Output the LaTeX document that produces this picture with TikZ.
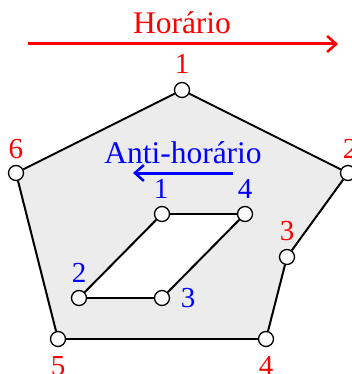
\documentclass[tikz,border=0pt]{standalone}
\usepackage{fontspec}
\setmainfont{Liberation Serif}
\usetikzlibrary{arrows.meta}
\begin{document}
\begin{tikzpicture}[x=1pt, y=-1pt,
    vertex/.style={circle, draw, fill=white, line width=1.3pt, minimum size=15pt, inner sep=0pt},
    edge/.style={line width=2pt, line join=round},
    outlbl/.style={text=red, font=\fontsize{29}{30}\selectfont, inner sep=0pt},
    inlbl/.style={text=blue, font=\fontsize{29}{30}\selectfont, inner sep=0pt},
    sense/.style={-{Straight Barb[length=9pt, width=16pt, line width=2.5pt]}, line width=3pt},
    title/.style={font=\fontsize{31.5}{33}\selectfont, inner sep=0pt}
]
\useasboundingbox (0,0) rectangle (352,374);

% Vertices (outer polygon, then inner parallelogram)
\coordinate (o1) at (182,90);
\coordinate (o2) at (348,173);
\coordinate (o3) at (287,257);
\coordinate (o4) at (266,339);
\coordinate (o5) at (58,339);
\coordinate (o6) at (16,173);
\coordinate (i1) at (162,214);
\coordinate (i2) at (79,298);
\coordinate (i3) at (162,298);
\coordinate (i4) at (245,214);

% Region with hole
\fill[gray!15] (o1) -- (o2) -- (o3) -- (o4) -- (o5) -- (o6) -- cycle;
\fill[white] (i1) -- (i4) -- (i3) -- (i2) -- cycle;

% Vertex circles
\foreach \v in {o1,o2,o3,o4,o5,o6,i1,i2,i3,i4} {
    \node[vertex] (n\v) at (\v) {};
}

% Edges
\foreach \a/\b in {o1/o2, o2/o3, o3/o4, o4/o5, o5/o6, o6/o1, i1/i4, i4/i3, i3/i2, i2/i1} {
    \draw[edge] (n\a) -- (n\b);
}

% Vertex labels
\node[outlbl] (l1) at (182,64) {1};
\node[outlbl] (l2) at (350,149) {2};
\node[outlbl] (l3) at (287,231) {3};
\node[outlbl] (l4) at (266,366) {4};
\node[outlbl] (l5) at (58,366) {5};
\node[outlbl] (l6) at (16,149) {6};
\node[inlbl] (k1) at (161,189) {1};
\node[inlbl] (k2) at (79,273) {2};
\node[inlbl] (k3) at (188,298) {3};
\node[inlbl] (k4) at (245,189) {4};

% Orientation
\node[title, text=red] (cw) at (182,23) {Horário};
\coordinate (cwa) at (28,44);
\coordinate (cwb) at (338,44);
\draw[sense, red] (cwa) -- (cwb);
\node[title, text=blue] (ccw) at (183,153) {Anti-horário};
\coordinate (ccwa) at (233,173);
\coordinate (ccwb) at (133,173);
\draw[sense, blue] (ccwa) -- (ccwb);

\end{tikzpicture}
\end{document}
